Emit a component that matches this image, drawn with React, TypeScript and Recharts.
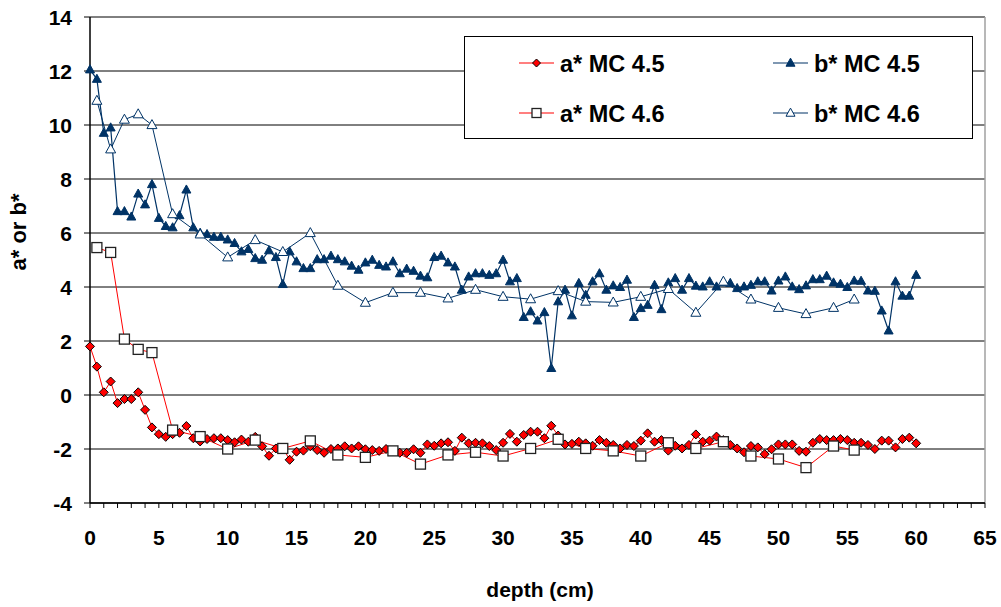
import React from "react";
import {
  CartesianGrid,
  Label,
  Line,
  LineChart,
  ReferenceLine,
  XAxis,
  YAxis,
} from "recharts";

// MC 4.5 core: sampled every 0.5 cm
const depth45 = [
  0, 0.5, 1, 1.5, 2, 2.5, 3, 3.5, 4, 4.5,
  5, 5.5, 6, 6.5, 7, 7.5, 8, 8.5, 9, 9.5,
  10, 10.5, 11, 11.5, 12, 12.5, 13, 13.5, 14, 14.5,
  15, 15.5, 16, 16.5, 17, 17.5, 18, 18.5, 19, 19.5,
  20, 20.5, 21, 21.5, 22, 22.5, 23, 23.5, 24, 24.5,
  25, 25.5, 26, 26.5, 27, 27.5, 28, 28.5, 29, 29.5,
  30, 30.5, 31, 31.5, 32, 32.5, 33, 33.5, 34, 34.5,
  35, 35.5, 36, 36.5, 37, 37.5, 38, 38.5, 39, 39.5,
  40, 40.5, 41, 41.5, 42, 42.5, 43, 43.5, 44, 44.5,
  45, 45.5, 46, 46.5, 47, 47.5, 48, 48.5, 49, 49.5,
  50, 50.5, 51, 51.5, 52, 52.5, 53, 53.5, 54, 54.5,
  55, 55.5, 56, 56.5, 57, 57.5, 58, 58.5, 59, 59.5,
  60,
];

const a45 = [
  1.8, 1.05, 0.1, 0.5, -0.3, -0.15, -0.15, 0.1, -0.55, -1.2,
  -1.45, -1.55, -1.45, -1.4, -1.15, -1.6, -1.72, -1.63, -1.6, -1.6,
  -1.67, -1.75, -1.65, -1.73, -1.55, -1.9, -2.25, -1.98, -1.95, -2.4,
  -2.1, -2.06, -1.9, -2.04, -2.14, -2.0, -1.98, -1.9, -1.98, -1.9,
  -2.01, -2.04, -2.07, -2.0, -2.07, -2.14, -2.14, -2.01, -2.14, -1.83,
  -1.88, -1.79, -1.75, -2.07, -1.58, -1.79, -1.77, -1.79, -1.89, -2.04,
  -1.77, -1.44, -1.73, -1.48, -1.36, -1.36, -1.6, -1.14, -1.5, -1.83,
  -1.81, -1.73, -1.79, -1.88, -1.67, -1.77, -1.85, -1.98, -1.85, -1.89,
  -1.69, -1.42, -1.73, -1.67, -2.06, -1.88, -1.98, -1.85, -1.46, -1.73,
  -1.69, -1.54, -1.67, -1.85, -1.98, -2.12, -1.89, -1.94, -2.19, -2.01,
  -1.83, -1.83, -1.83, -2.07, -2.1, -1.77, -1.63, -1.67, -1.67, -1.63,
  -1.67, -1.77, -1.77, -1.85, -2.0, -1.69, -1.69, -1.94, -1.63, -1.58,
  -1.79,
];

const b45 = [
  12.05, 11.7, 9.7, 9.9, 6.8, 6.8, 6.6, 7.45, 7.05, 7.8,
  6.55, 6.25, 6.2, 6.65, 7.6, 6.2, 6.0, 5.95, 5.85, 5.85,
  5.75, 5.62, 5.31, 5.4, 5.06, 5.0, 5.35, 5.1, 4.1, 5.31,
  4.94, 4.69, 4.69, 5.02, 5.02, 5.15, 5.02, 4.94, 4.78, 4.63,
  4.9, 5.0, 4.81, 4.75, 4.94, 4.5, 4.67, 4.59, 4.41, 4.35,
  5.1, 5.15, 4.9, 4.75, 3.89, 4.38, 4.5, 4.5, 4.44, 4.5,
  5.0, 4.2, 4.32, 2.88, 3.09, 2.75, 3.06, 0.99, 3.46, 3.89,
  2.94, 4.14, 3.7, 4.2, 4.5, 3.89, 4.05, 3.99, 4.26, 2.88,
  3.21, 3.33, 4.07, 3.17, 4.16, 4.32, 3.89, 4.32, 4.04, 4.01,
  4.2, 4.01, 4.16, 4.14, 3.95, 4.01, 4.07, 4.2, 4.2, 3.86,
  4.23, 4.38, 4.01, 3.91, 4.05, 4.28, 4.28, 4.41, 4.16, 4.11,
  3.99, 4.23, 4.22, 3.86, 3.85, 3.12, 2.38, 4.2, 3.67, 3.67,
  4.44,
];

// MC 4.6 core: coarser sampling
const depth46 = [
  0.5, 1.5, 2.5, 3.5, 4.5, 6, 8, 10, 12, 14, 16, 18, 20, 22, 24, 26,
  28, 30, 32, 34, 36, 38, 40, 42, 44, 46, 48, 50, 52, 54, 55.5,
];

const a46 = [
  5.46, 5.28, 2.07, 1.69, 1.57, -1.3, -1.54, -2.0, -1.67, -1.98, -1.7,
  -2.22, -2.31, -2.07, -2.56, -2.22, -2.12, -2.26, -1.98, -1.64, -1.98,
  -2.07, -2.26, -1.77, -1.98, -1.73, -2.26, -2.37, -2.69, -1.89, -2.04,
];

const b46 = [
  10.9, 9.1, 10.2, 10.4, 10.0, 6.7, 5.95, 5.1, 5.74, 5.3, 6.0,
  4.05, 3.42, 3.79, 3.79, 3.58, 3.9, 3.64, 3.55, 3.85, 3.46,
  3.43, 3.64, 3.93, 3.05, 4.2, 3.54, 3.23, 3.0, 3.23, 3.54,
];

const xLabels = [0, 5, 10, 15, 20, 25, 30, 35, 40, 45, 50, 55, 60, 65];
const yTicks = [-4, -2, 0, 2, 4, 6, 8, 10, 12, 14];

const RED = "#ff0000";
const NAVY = "#003366";
const FONT = "'Liberation Sans', Arial, sans-serif";

const pairs = (xs: number[], ys: number[]) => xs.map((x, i) => ({ x, y: ys[i] }));

const a45Data = pairs(depth45, a45);
const b45Data = pairs(depth45, b45);
const a46Data = pairs(depth46, a46);
const b46Data = pairs(depth46, b46);

// every whole cm gets a minor tick, labels only on the fives
const minorTicks = Array.from({ length: 66 }, (_, i) => i);

function diamond(cx: number, cy: number, r: number, key?: any) {
  return (
    <path
      key={key}
      d={`M${cx},${cy - r}L${cx + r},${cy}L${cx},${cy + r}L${cx - r},${cy}Z`}
      fill={RED}
      stroke="#000"
      strokeWidth={1}
    />
  );
}

function square(cx: number, cy: number, s: number, key?: any) {
  return (
    <rect
      key={key}
      x={cx - s / 2}
      y={cy - s / 2}
      width={s}
      height={s}
      fill="#fff"
      stroke="#222"
      strokeWidth={1.3}
    />
  );
}

function triangle(cx: number, cy: number, w: number, filled: boolean, key?: any) {
  const h = w * 0.9;
  return (
    <path
      key={key}
      d={`M${cx},${cy - h * 0.6}L${cx + w / 2},${cy + h * 0.4}L${cx - w / 2},${cy + h * 0.4}Z`}
      fill={filled ? NAVY : "#fff"}
      stroke={NAVY}
      strokeWidth={1}
    />
  );
}

const XTick = ({ x, payload }: any) => {
  if (!xLabels.includes(payload.value)) return <g />;
  return (
    <text x={x} y={545} textAnchor="middle" fontFamily={FONT} fontWeight="bold" fontSize={21} fill="#000">
      {payload.value}
    </text>
  );
};

const YTick = ({ x, y, payload }: any) => (
  <text x={x} y={y + 7.5} textAnchor="end" fontFamily={FONT} fontWeight="bold" fontSize={21} fill="#000">
    {payload.value}
  </text>
);

function LegendBox() {
  const rows = [
    { y: 63, col: 0, label: "a* MC 4.5", mark: (cx: number, cy: number) => diamond(cx, cy, 4), color: RED },
    { y: 63, col: 1, label: "b* MC 4.5", mark: (cx: number, cy: number) => triangle(cx, cy, 9, true), color: NAVY },
    { y: 113, col: 0, label: "a* MC 4.6", mark: (cx: number, cy: number) => square(cx, cy, 9), color: RED },
    { y: 113, col: 1, label: "b* MC 4.6", mark: (cx: number, cy: number) => triangle(cx, cy, 9, false), color: NAVY },
  ];
  return (
    <svg width={1001} height={607} style={{ position: "absolute", left: 0, top: 0, pointerEvents: "none" }}>
      <rect x={464.5} y={36.5} width={508} height={102} fill="#fff" stroke="#000" strokeWidth={1} />
      {rows.map((r) => {
        const x0 = r.col === 0 ? 519 : 773;
        return (
          <g key={r.label}>
            <line x1={x0} x2={x0 + 35} y1={r.y} y2={r.y} stroke={r.color} strokeWidth={1.2} />
            {r.mark(x0 + 17.5, r.y)}
            <text x={x0 + 41} y={r.y + 8.5} fontFamily={FONT} fontWeight="bold" fontSize={23.5} fill="#000">
              {r.label}
            </text>
          </g>
        );
      })}
    </svg>
  );
}

export default function App() {
  return (
    <div style={{ position: "absolute", left: 0, top: 0, width: 1001, height: 607, background: "#fff" }}>
      <LineChart width={1001} height={607} margin={{ top: 17, right: 16, bottom: 0, left: 0 }}>
        <CartesianGrid vertical={false} stroke="#000" strokeWidth={1} />
        <ReferenceLine y={14} stroke="#808080" />
        <ReferenceLine x={65} stroke="#a0a0a0" strokeWidth={1.5} />
        <XAxis
          type="number"
          dataKey="x"
          domain={[0, 65]}
          ticks={minorTicks}
          interval={0}
          height={104}
          tickSize={5}
          axisLine={{ stroke: "#000", strokeWidth: 1.5 }}
          tickLine={{ stroke: "#000" }}
          tick={<XTick />}
        >
          <Label
            content={() => (
              <text x={540} y={597} textAnchor="middle" fontFamily={FONT} fontWeight="bold" fontSize={21} fill="#000">
                depth (cm)
              </text>
            )}
          />
        </XAxis>
        <YAxis
          type="number"
          domain={[-4, 14]}
          ticks={yTicks}
          interval={0}
          width={90}
          tickSize={6}
          tickMargin={12}
          axisLine={{ stroke: "#000", strokeWidth: 1.5 }}
          tickLine={{ stroke: "#000" }}
          tick={<YTick />}
        >
          <Label
            content={() => (
              <text
                x={26}
                y={232}
                transform="rotate(-90 26 232)"
                textAnchor="middle"
                fontFamily={FONT}
                fontWeight="bold"
                fontSize={22}
                fill="#000"
              >
                a* or b*
              </text>
            )}
          />
        </YAxis>
        <Line
          data={a45Data}
          dataKey="y"
          stroke={RED}
          strokeWidth={1}
          isAnimationActive={false}
          activeDot={false}
          dot={(p: any) => diamond(p.cx, p.cy, 4.5, `a45-${p.index}`)}
        />
        <Line
          data={b45Data}
          dataKey="y"
          stroke={NAVY}
          strokeWidth={1.2}
          isAnimationActive={false}
          activeDot={false}
          dot={(p: any) => triangle(p.cx, p.cy, 9, true, `b45-${p.index}`)}
        />
        <Line
          data={a46Data}
          dataKey="y"
          stroke={RED}
          strokeWidth={1}
          isAnimationActive={false}
          activeDot={false}
          dot={(p: any) => square(p.cx, p.cy, 10, `a46-${p.index}`)}
        />
        <Line
          data={b46Data}
          dataKey="y"
          stroke={NAVY}
          strokeWidth={1}
          isAnimationActive={false}
          activeDot={false}
          dot={(p: any) => triangle(p.cx, p.cy, 10, false, `b46-${p.index}`)}
        />
      </LineChart>
      <LegendBox />
    </div>
  );
}
